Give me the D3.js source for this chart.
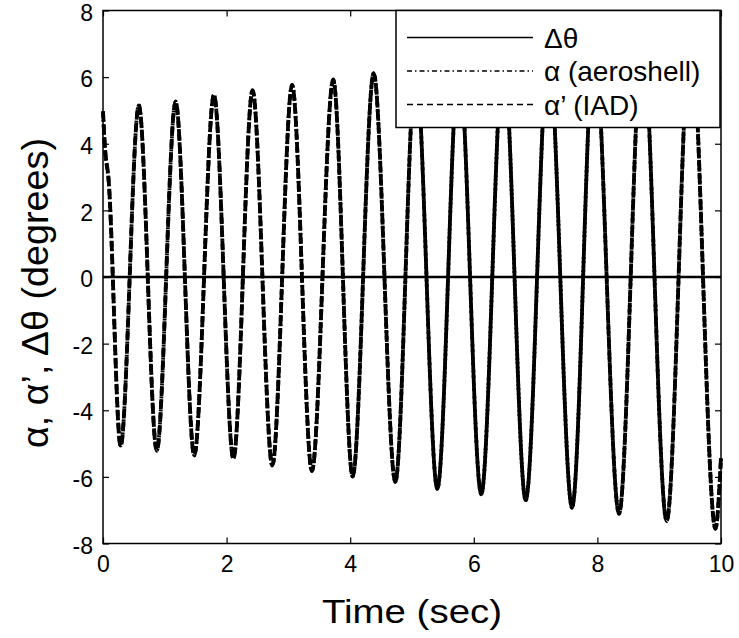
<!DOCTYPE html>
<html>
<head>
<meta charset="utf-8">
<script src="https://cdn.jsdelivr.net/npm/d3@7"></script>
<style>
  body { margin: 0; background: #fff; }
  text { font-family: "Liberation Sans", Arial, sans-serif; fill: #000; }
</style>
</head>
<body>
<svg id="chart" width="739" height="638"></svg>
<script>
// time (sec) of the read-off turning points
var times = [0, 0.03, 0.09, 0.285, 0.58, 0.87, 1.175, 1.477, 1.795, 2.11, 2.42, 2.74, 3.06, 3.38, 3.725, 4.04,
             4.38, 4.73, 5.06, 5.41, 5.76, 6.12, 6.48, 6.84, 7.21, 7.59, 7.95, 8.35, 8.73, 9.12, 9.51, 9.91, 10];
// alpha (aeroshell), degrees
var alphaAero = [4.96, 3.9, 2.9, -5.06, 5.16, -5.2, 5.26, -5.35, 5.47, -5.45, 5.6, -5.65, 5.77, -5.82, 5.92, -5.98,
                 6.12, -6.15, 6.3, -6.35, 6.5, -6.52, 6.65, -6.7, 6.85, -6.92, 7.05, -7.1, 7.25, -7.32, 7.45, -7.55, -5.43];
// alpha' (IAD), degrees
var alphaIAD = [4.98, 3.95, 2.95, -5.08, 5.15, -5.22, 5.27, -5.36, 5.46, -5.46, 5.61, -5.66, 5.76, -5.83, 5.93, -5.99,
                6.11, -6.16, 6.31, -6.36, 6.49, -6.53, 6.66, -6.71, 6.84, -6.93, 7.06, -7.11, 7.24, -7.33, 7.46, -7.56, -5.4];
// delta theta, degrees
var dthTimes = [0, 10];
var deltaTheta = [0, 0];

var xTicks = [0, 2, 4, 6, 8, 10];
var yTicks = [-8, -6, -4, -2, 0, 2, 4, 6, 8];
var legendLabels = ["\u0394\u03b8", "\u03b1 (aeroshell)", "\u03b1\u2019 (IAD)"];

var svg = d3.select("#chart"),
    margin = {top: 10.5, right: 18, bottom: 94.5, left: 103},
    width = +svg.attr("width") - margin.left - margin.right,
    height = +svg.attr("height") - margin.top - margin.bottom,
    g = svg.append("g").attr("transform", "translate(" + margin.left + "," + margin.top + ")");

var x = d3.scaleLinear().domain([0, 10]).range([0, width]),
    y = d3.scaleLinear().domain([-8, 8]).range([height, 0]);

var line = d3.line()
    .curve(d3.curveMonotoneX)
    .x(function(d) { return x(d[0]); })
    .y(function(d) { return y(d[1]); });

var aeroPts = times.map(function(t, i) { return [t, alphaAero[i]]; }),
    iadPts = times.map(function(t, i) { return [t, alphaIAD[i]]; }),
    dthPts = dthTimes.map(function(t, i) { return [t, deltaTheta[i]]; });

// data lines
g.append("path").attr("d", line(dthPts))
    .attr("fill", "none").attr("stroke", "#000").attr("stroke-width", 2.5);
g.append("path").attr("d", line(aeroPts))
    .attr("fill", "none").attr("stroke", "#000").attr("stroke-width", 3.8)
    .attr("stroke-dasharray", "6,2,2,3");
g.append("path").attr("d", line(iadPts))
    .attr("fill", "none").attr("stroke", "#000").attr("stroke-width", 3.8)
    .attr("stroke-dasharray", "10,3");

// axes, ticks inward on all four sides
var tickLen = 6;
var fmt = function(d) { return String(d); };
var axB = g.append("g").attr("transform", "translate(0," + height + ")")
    .call(d3.axisBottom(x).tickValues(xTicks).tickSizeInner(-tickLen).tickSizeOuter(0).tickPadding(12).tickFormat(fmt));
var axT = g.append("g")
    .call(d3.axisTop(x).tickValues(xTicks).tickSizeInner(-tickLen).tickSizeOuter(0).tickFormat(""));
var axL = g.append("g")
    .call(d3.axisLeft(y).tickValues(yTicks).tickSizeInner(-tickLen).tickSizeOuter(0).tickPadding(10).tickFormat(fmt));
var axR = g.append("g").attr("transform", "translate(" + width + ",0)")
    .call(d3.axisRight(y).tickValues(yTicks).tickSizeInner(-tickLen).tickSizeOuter(0).tickFormat(""));

[axB, axT, axL, axR].forEach(function(a) {
  a.select(".domain").remove();
  a.selectAll(".tick line").attr("stroke", "#000").attr("stroke-width", 1.2);
  a.selectAll("text").attr("font-size", 23).attr("font-family", "Liberation Sans, Arial, sans-serif");
});
axB.selectAll("text").attr("dy", "0.71em");
axL.selectAll("text").attr("dy", "0.42em");

g.append("rect").attr("width", width).attr("height", height)
    .attr("fill", "none").attr("stroke", "#000").attr("stroke-width", 1.5);

// axis titles
svg.append("text")
    .attr("x", margin.left + width / 2).attr("y", 623)
    .attr("text-anchor", "middle").attr("font-size", 33)
    .attr("textLength", 180).attr("lengthAdjust", "spacingAndGlyphs")
    .text("Time (sec)");
svg.append("text")
    .attr("transform", "translate(48,293) rotate(-90)")
    .attr("text-anchor", "middle").attr("font-size", 36)
    .attr("textLength", 310).attr("lengthAdjust", "spacingAndGlyphs")
    .text("\u03b1, \u03b1\u2019, \u0394\u03b8 (degrees)");

// legend
var lg = svg.append("g").attr("transform", "translate(396,10.5)");
lg.append("rect").attr("width", 324).attr("height", 117)
    .attr("fill", "#fff").attr("stroke", "#000").attr("stroke-width", 1.5);
var legendDash = [null, "5,3,1.5,3", "6,4"];
legendLabels.forEach(function(lab, i) {
  var yy = 27 + i * 33.5;
  lg.append("line").attr("x1", 11).attr("x2", 137).attr("y1", yy).attr("y2", yy)
      .attr("stroke", "#000").attr("stroke-width", 1.5)
      .attr("stroke-dasharray", legendDash[i]);
  lg.append("text").attr("x", 148).attr("y", yy + 10).attr("font-size", 28).text(lab);
});
</script>
</body>
</html>
